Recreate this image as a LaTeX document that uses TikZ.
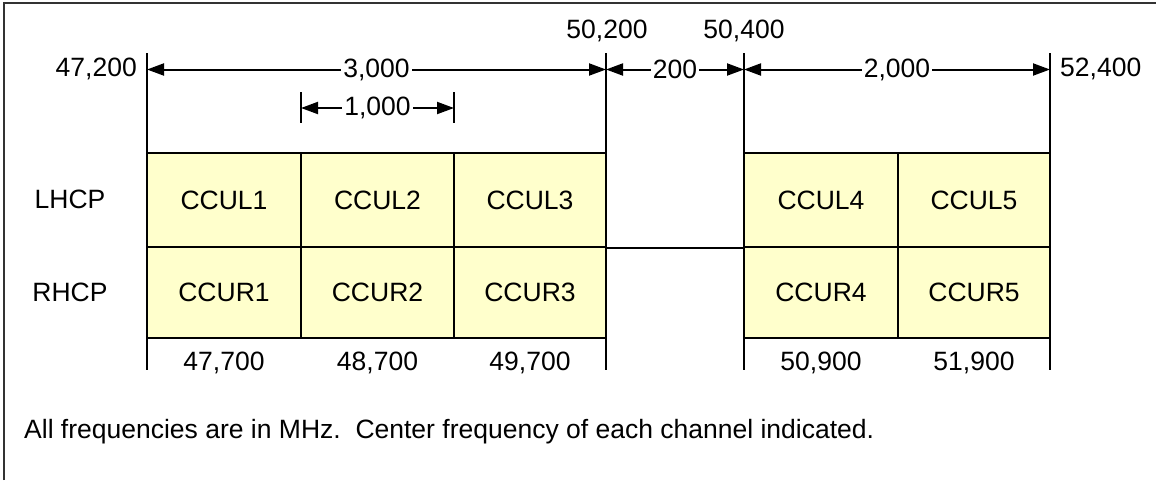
\documentclass[tikz,border=0pt]{standalone}
\usepackage{fontspec}
\setmainfont{Liberation Sans}
\usetikzlibrary{arrows.meta}
\definecolor{cellfill}{HTML}{FFFFCC}
\begin{document}
\begin{tikzpicture}[x=1pt,y=-1pt,
  txt/.style={font=\fontsize{26.5}{30}\selectfont, inner sep=0pt},
  cell/.style={draw, line width=2pt, fill=cellfill, font=\fontsize{26.5}{30}\selectfont, inner sep=0pt, anchor=center},
  ext/.style={line width=2pt},
  dim/.style={line width=2pt, {Triangle[length=17pt,width=12pt]}-{Triangle[length=17pt,width=12pt]}},
  dimlab/.style={txt, fill=white, inner xsep=2pt, inner ysep=1pt}]
\useasboundingbox (0,0) rectangle (1156,480);
\fill[white] (0,0) rectangle (1156,480);
% outer frame (left and top edges visible)
\draw[line width=1.5pt, black!80] (4,480) -- (4,3) -- (1156,3);

% cells
\node[cell, minimum width=154pt, minimum height=94pt] (L1) at (224,200) {CCUL1};
\node[cell, minimum width=153pt, minimum height=94pt] (L2) at (377.5,200) {CCUL2};
\node[cell, minimum width=152pt, minimum height=94pt] (L3) at (530,200) {CCUL3};
\node[cell, minimum width=154pt, minimum height=94pt] (L4) at (821,200) {CCUL4};
\node[cell, minimum width=152pt, minimum height=94pt] (L5) at (974,200) {CCUL5};
\node[cell, minimum width=154pt, minimum height=91pt] (R1) at (224,292.5) {CCUR1};
\node[cell, minimum width=153pt, minimum height=91pt] (R2) at (377.5,292.5) {CCUR2};
\node[cell, minimum width=152pt, minimum height=91pt] (R3) at (530,292.5) {CCUR3};
\node[cell, minimum width=154pt, minimum height=91pt] (R4) at (821,292.5) {CCUR4};
\node[cell, minimum width=152pt, minimum height=91pt] (R5) at (974,292.5) {CCUR5};

% line between the groups
\draw[ext] (L3.south east) -- (L4.south west);

% extension lines
\coordinate (e1t) at (147,53);  \coordinate (e1b) at (147,370);
\coordinate (e2t) at (606,53);  \coordinate (e2b) at (606,370);
\coordinate (e3t) at (744,53);  \coordinate (e3b) at (744,370);
\coordinate (e4t) at (1050,53); \coordinate (e4b) at (1050,370);
\draw[ext] (e1t) -- (e1b);
\draw[ext] (e2t) -- (e2b);
\draw[ext] (e3t) -- (e3b);
\draw[ext] (e4t) -- (e4b);
\coordinate (t1t) at (301,92); \coordinate (t1b) at (301,123);
\coordinate (t2t) at (454,92); \coordinate (t2b) at (454,123);
\draw[ext] (t1t) -- (t1b);
\draw[ext] (t2t) -- (t2b);

% dimension arrows
\coordinate (a1) at (147,69.5);
\coordinate (a2) at (606,69.5);
\coordinate (a3) at (744,69.5);
\coordinate (a4) at (1050,69.5);
\coordinate (b1) at (301,108);
\coordinate (b2) at (454,108);
\draw[dim] (a1) -- node[dimlab] (d3000) {3,000} (a2);
\draw[dim] (a2) -- node[dimlab] (d200) {200} (a3);
\draw[dim] (a3) -- node[dimlab] (d2000) {2,000} (a4);
\draw[dim] (b1) -- node[dimlab] (d1000) {1,000} (b2);

% frequency labels
\node[txt, anchor=east] (f47200) at (137,69) {47,200};
\node[txt] (f50200) at (607,30.5) {50,200};
\node[txt] (f50400) at (744,30.5) {50,400};
\node[txt, anchor=west] (f52400) at (1060,69) {52,400};

% polarisation labels
\node[txt] (lhcp) at (70,199) {LHCP};
\node[txt] (rhcp) at (70,292) {RHCP};

% centre frequencies
\node[txt] (c1) at (224,363) {47,700};
\node[txt] (c2) at (377.5,363) {48,700};
\node[txt] (c3) at (530,363) {49,700};
\node[txt] (c4) at (821,363) {50,900};
\node[txt] (c5) at (974,363) {51,900};

% footnote
\node[txt, anchor=west] (note) at (24,432) {All frequencies are in MHz.\ \ Center frequency of each channel indicated.};
\end{tikzpicture}
\end{document}
